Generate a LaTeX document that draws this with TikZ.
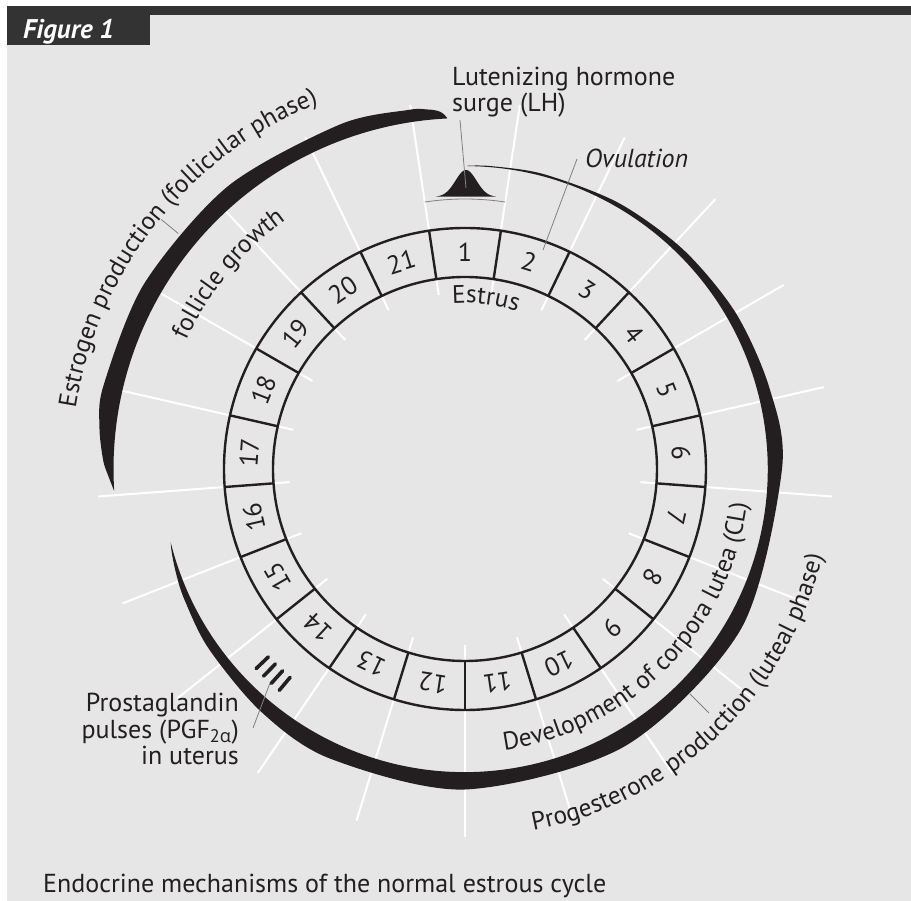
\documentclass[tikz,border=0pt]{standalone}
\usepackage{fontspec}
\setmainfont{PT Sans}
\newfontfamily\greekfont{Open Sans}
\usetikzlibrary{decorations.text}
\definecolor{cyclePaper}{HTML}{E6E6E6}
\definecolor{cycleInk}{HTML}{231F20}
\definecolor{cycleBar}{HTML}{333333}
\definecolor{cycleLeader}{HTML}{808080}
\newcommand{\lblfont}{\fontsize{26}{26.5}\selectfont}
\newcommand{\arcfont}{\fontsize{25.3}{27}\selectfont}

\begin{document}
\begin{tikzpicture}[x=1pt, y=1pt,
    ringline/.style={cycleInk, line width=2.4pt},
    whiteline/.style={white, line width=2pt},
    leader/.style={cycleLeader, line width=0.8pt},
    daynum/.style={font=\lblfont, text=cycleInk, inner sep=0pt},
    lbltext/.style={font=\lblfont, text=cycleInk, inner sep=0pt},
    curvedtext/.style={decorate, decoration={text along path, text align=center, text={|\color{cycleInk}\arcfont|#1}}}]
    \useasboundingbox (-465,-432) rectangle (446,469);
    \fill[white] (-465,-432) rectangle (446,469);
    \fill[cyclePaper] (-458,-432) rectangle (446,463);
    \fill[cycleBar] (-458,454) rectangle (446,463);
    \fill[cycleBar] (-458,424) rectangle (-315,463);
    \node[anchor=base west, text=white, inner sep=0pt, font=\fontsize{27}{30}\selectfont\bfseries\itshape] (figtag) at (-442,430) {Figure 1};

    % white day ticks behind everything
    \foreach \k in {0,...,20} {
      \pgfmathsetmacro\b{90+180/21-\k*360/21}
      \draw[whiteline] (\b:176pt) -- (\b:368pt);
    }

    % day ring
    \fill[cyclePaper, even odd rule] (0,0) circle[radius=241pt] (0,0) circle[radius=192pt];
    \draw[ringline] (0,0) circle[radius=241pt] (0,0) circle[radius=192pt];
    \foreach \d in {1,...,21} {
      \pgfmathsetmacro\a{90-(\d-1)*360/21}
      \pgfmathsetmacro\b{\a+180/21}
      \draw[ringline] (\b:192pt) -- (\b:241pt);
      \node[daynum, rotate=\a-90] (day\d) at (\a:216.5pt) {\d};
    }

    % estrogen production (follicular phase)
    \fill[cycleInk] plot[smooth] coordinates {(92.9:351.5pt) (93.6:356.5pt) (94.5:359.5pt) (96:361.5pt) (99:363.5pt)
      (110:366.5pt) (130:369pt) (150:370.5pt) (167:371pt) (173.4:368pt) (178.6:362pt) (181:357pt) (183.6:351.5pt)}
      arc[start angle=183.6, end angle=92.9, radius=351pt] -- cycle;

    % progesterone production (luteal phase)
    \fill[cycleInk] plot[smooth] coordinates {(89.5:303.3pt) (85:304pt) (75:305.2pt) (60:307.2pt) (45:309.5pt) (30:312.5pt)
      (15:315pt) (0:317pt) (-30:319pt) (-60:320pt) (-90:320.5pt) (-115:319.5pt) (-130:317pt) (-145:313pt)
      (-155:309.5pt) (-160:307.3pt) (-164:305pt) (-166:303.3pt)}
      arc[start angle=-166, end angle=89.5, radius=303pt] -- cycle;

    % LH surge
    \fill[cycleInk] plot[domain=-30:30, samples=61, smooth] (\x+1, {272+27*exp(-\x*\x/220)}) -- cycle;
    \draw[leader] (98.57:270pt) arc[start angle=98.57, end angle=81.43, radius=270pt];
    \coordinate (lhpeak) at (1,281);
    \coordinate (lhfoot) at (-5,349);
    \node[lbltext, anchor=base west, align=left] (lh) at (-13,357) {Lutenizing hormone\\surge (LH)};
    \draw[leader] (lhfoot) -- (lhpeak);

    % ovulation
    \node[lbltext, anchor=base west, font=\lblfont\itshape] (ovu) at (120,301) {Ovulation};
    \coordinate (ovufoot) at (112,310);
    \coordinate (ovuday) at (78,219);
    \draw[leader] (ovufoot) -- (ovuday);

    % prostaglandin pulses
    \foreach \t in {223.7,225.8,227.9,230.0}
      \draw[cycleInk, line width=3.6pt, line cap=round] (\t:272pt) -- (\t:289pt);
    \node[lbltext, anchor=base east, align=right] (pgf) at (-226,-296)
      {Prostaglandin\\pulses (PGF\textsubscript{2{\greekfont α}})\\in uterus};
    \coordinate (pgffoot) at (-212,-259);
    \coordinate (pgfmark) at (-195,-214);
    \draw[leader] (pgffoot) -- (pgfmark);

    % curved labels
    \path[curvedtext={Estrus}] (102:166pt) arc[start angle=102, end angle=64, radius=166pt];
    \path[curvedtext={Estrogen production (follicular phase)}] (173:394pt) arc[start angle=173, end angle=110, radius=394pt];
    \path[curvedtext={follicle growth}] (157:307pt) arc[start angle=157, end angle=124, radius=307pt];
    \path[curvedtext={Development of corpora lutea (CL)}] (-84:284pt) arc[start angle=-84, end angle=-5, radius=284pt];
    \path[curvedtext={Progesterone production (luteal phase)}] (-82:368pt) arc[start angle=-82, end angle=-11, radius=368pt];
    \coordinate (estin) at (140.6:371pt);
    \coordinate (estout) at (140.6:393pt);
    \draw[leader] (estin) -- (estout);
    \coordinate (progin) at (-45:318pt);
    \coordinate (progout) at (-45:345pt);
    \draw[leader] (progin) -- (progout);

    \node[lbltext, anchor=base west] (caption) at (-422,-424) {Endocrine mechanisms of the normal estrous cycle};
  \end{tikzpicture}
\end{document}
